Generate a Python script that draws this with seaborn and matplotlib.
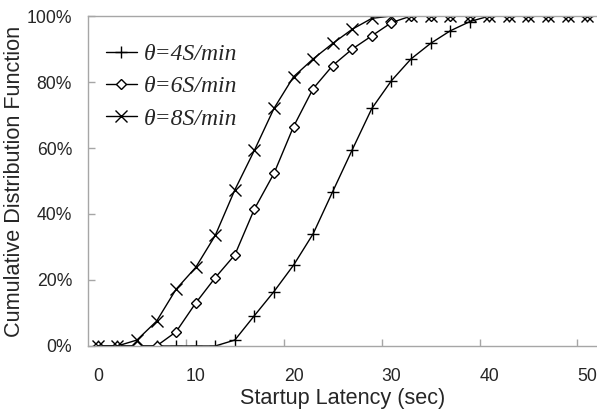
import numpy as np
import pandas as pd
import matplotlib
matplotlib.use("Agg")
import matplotlib.pyplot as plt
import seaborn as sns
from matplotlib.ticker import FixedLocator, FuncFormatter

# startup latency (sec), one point every 2 s
latency = list(range(0, 52, 2))

cdf_4 = [0, 0, 0, 0, 0, 0, 0, 1.8, 9.2, 16.5, 24.5, 34.0, 46.8, 59.5, 72.0,
         80.4, 87.0, 91.7, 95.5, 98.3, 100, 100, 100, 100, 100, 100]
cdf_6 = [0, 0, 0, 0, 4.3, 13.0, 20.7, 27.6, 41.5, 52.3, 66.5, 78.0, 85.0,
         90.0, 94.0, 98.0, 100, 100, 100, 100, 100, 100, 100, 100, 100, 100]
cdf_8 = [0, 0, 1.8, 7.5, 17.2, 23.8, 33.5, 47.3, 59.3, 72.0, 81.6, 87.0, 91.7,
         96.0, 99.3, 100, 100, 100, 100, 100, 100, 100, 100, 100, 100, 100]

labels = ["θ=4S/min", "θ=6S/min", "θ=8S/min"]
markers = ["+", "D", "x"]
msizes = [9, 5.5, 9]

sns.set_theme(style="white")
plt.rcParams["font.family"] = ["Liberation Sans", "DejaVu Sans"]

gray = "#a6a6a6"

fig = plt.figure(figsize=(5.97, 4.16), dpi=100)
ax = fig.add_axes([0.1474, 0.1683, 0.8526, 0.7932])

for y, lab, m, ms in zip([cdf_4, cdf_6, cdf_8], labels, markers, msizes):
    df = pd.DataFrame({"lat": latency, "cdf": y})
    sns.lineplot(data=df, x="lat", y="cdf", ax=ax, color="black", lw=1.0,
                 marker=m, markersize=ms, markeredgewidth=1.0,
                 markerfacecolor="white", markeredgecolor="black", label=lab)

ax.set_xlim(-1, 51)
ax.set_ylim(0, 100)

ax.xaxis.set_major_locator(FixedLocator([0, 10, 20, 30, 40, 50]))
ax.xaxis.set_minor_locator(FixedLocator([9, 19, 29, 39, 49]))
ax.yaxis.set_major_locator(FixedLocator([0, 20, 40, 60, 80, 100]))
ax.yaxis.set_major_formatter(FuncFormatter(lambda v, p: f"{v:.0f}%"))

ax.tick_params(axis="x", which="major", length=0, pad=16, labelsize=12.7)
ax.tick_params(axis="x", which="minor", length=5, width=1, direction="in",
               color=gray, bottom=True)
ax.tick_params(axis="y", which="major", length=5, width=1, direction="in",
               color=gray, pad=11.5, labelsize=12.7, left=True)

for s in ["left", "bottom", "top"]:
    ax.spines[s].set_color(gray)
    ax.spines[s].set_linewidth(1.0)
ax.spines["right"].set_visible(False)

ax.set_xlabel("Startup Latency (sec)", fontsize=15.6, labelpad=2)
ax.set_ylabel("Cumulative Distribution Function", fontsize=15.6, labelpad=1)

leg = ax.legend(loc="upper left", bbox_to_anchor=(0.035, 0.917), frameon=False,
                borderaxespad=0, borderpad=0, handlelength=1.3, handletextpad=0.3,
                labelspacing=0.46,
                prop={"family": "Liberation Serif", "style": "italic", "size": 17})

fig.savefig("out.png", dpi=100)
